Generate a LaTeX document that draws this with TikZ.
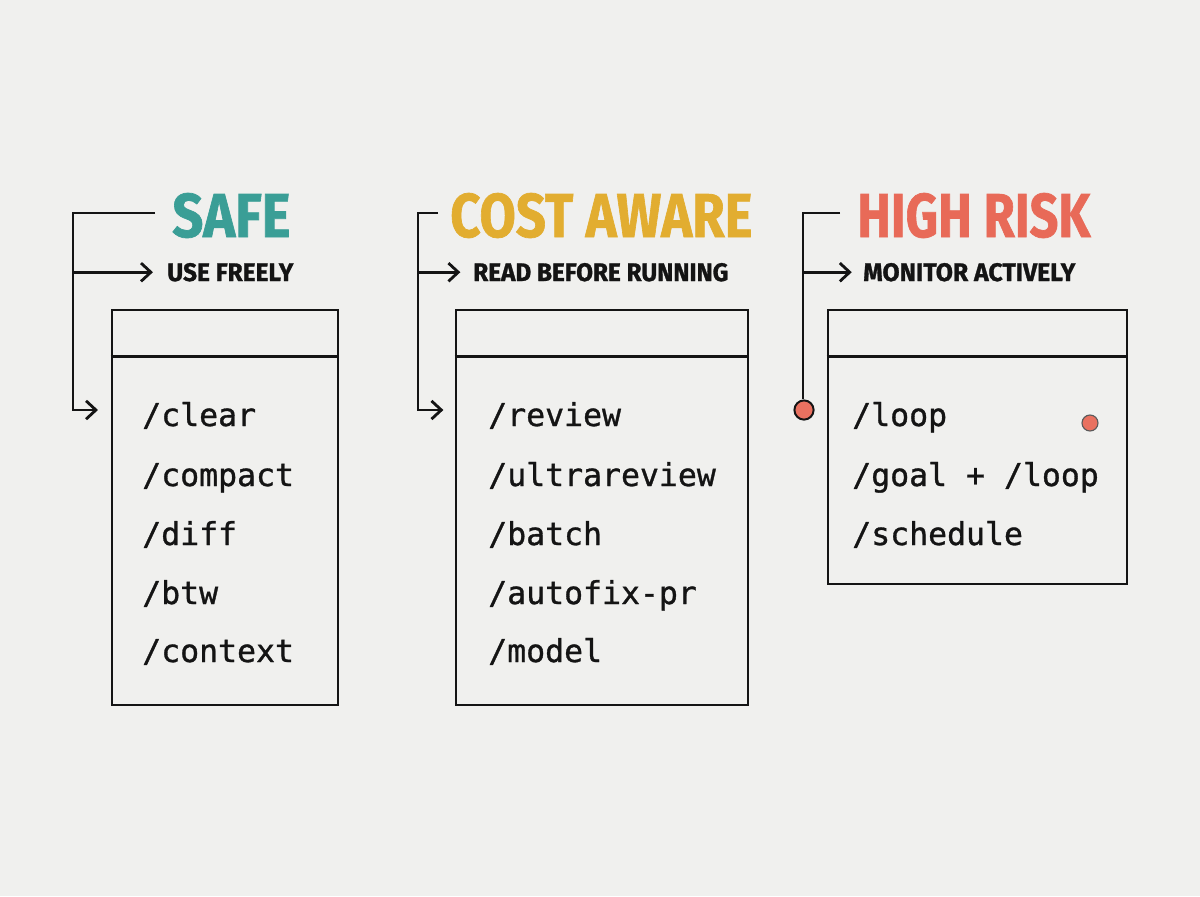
\documentclass[tikz,border=0pt]{standalone}
\usepackage{fontspec}
\usepackage{graphicx}
\setsansfont{Fira Sans}[BoldFeatures={FakeBold=1.2}]
\setmonofont{DejaVu Sans Mono}[FakeBold=1]
\usetikzlibrary{arrows.meta}
\definecolor{paper}{RGB}{240,240,238}
\definecolor{safeteal}{RGB}{58,158,150}
\definecolor{costgold}{RGB}{226,173,48}
\definecolor{riskred}{RGB}{232,106,88}
\definecolor{ink}{RGB}{20,20,20}

\tikzset{
  heading/.style={anchor=base west, inner sep=0pt, font=\sffamily\bfseries},
  note/.style={anchor=base west, inner sep=0pt, font=\sffamily\bfseries, text=ink},
  cmdlist/.style={draw=ink, line width=1.9pt, inner sep=0pt},
  cmd/.style={anchor=base west, inner sep=0pt, text=ink, font=\ttfamily\fontsize{22.4}{26}\selectfont},
  bracket/.style={draw=ink, line width=2pt},
  pointer/.style={-{Straight Barb[length=7pt,width=13pt]}},
  alarm/.style={circle, inner sep=0pt, fill=riskred!95, draw=ink, line width=1.4pt, minimum size=0.48cm}
}

\begin{document}
\begin{tikzpicture}[x=0.025cm, y=-0.025cm]
  \fill[paper] (0,0) rectangle (1200,896);

  % headings
  \node[heading, text=safeteal] (safe) at (172,237) {\resizebox{2.95cm}{1.1cm}{SAFE}};
  \node[heading, text=costgold] (cost) at (450,237) {\resizebox{7.55cm}{1.1cm}{COST AWARE}};
  \node[heading, text=riskred] (risk) at (857,237) {\resizebox{5.825cm}{1.1cm}{HIGH RISK}};

  \node[note] (safeNote) at (167,281) {\resizebox{3.15cm}{0.45cm}{USE FREELY}};
  \node[note] (costNote) at (473,281) {\resizebox{6.375cm}{0.45cm}{READ BEFORE RUNNING}};
  \node[note] (riskNote) at (863,281) {\resizebox{5.3cm}{0.45cm}{MONITOR ACTIVELY}};

  % boxes
  \node[cmdlist, minimum width=5.65cm, minimum height=9.875cm] (safeBox) at (225,507.5) {};
  \node[cmdlist, minimum width=7.3cm, minimum height=9.875cm] (costBox) at (602,507.5) {};
  \node[cmdlist, minimum width=7.475cm, minimum height=6.85cm] (riskBox) at (977.5,447) {};
  \draw[cmdlist] ([yshift=-1.2cm]safeBox.north west) -- ([yshift=-1.2cm]safeBox.north east);
  \draw[cmdlist] ([yshift=-1.2cm]costBox.north west) -- ([yshift=-1.2cm]costBox.north east);
  \draw[cmdlist] ([yshift=-1.2cm]riskBox.north west) -- ([yshift=-1.2cm]riskBox.north east);

  % commands
  \node[cmd] (clear) at (142,426) {/clear};
  \node[cmd] (compact) at (142,486) {/compact};
  \node[cmd] (diff) at (142,545) {/diff};
  \node[cmd] (btw) at (142,604) {/btw};
  \node[cmd] (context) at (142,662) {/context};

  \node[cmd] (review) at (488,426) {/review};
  \node[cmd] (ultrareview) at (488,486) {/ultrareview};
  \node[cmd] (batch) at (488,545) {/batch};
  \node[cmd] (autofix) at (488,604) {/autofix-pr};
  \node[cmd] (model) at (488,662) {/model};

  \node[cmd] (loop) at (852,426) {/loop};
  \node[cmd] (goalLoop) at (852,486) {/goal + /loop};
  \node[cmd] (schedule) at (852,545) {/schedule};

  % brackets
  \coordinate (safeStart) at (155,213);
  \coordinate (safeBend) at (73,213);
  \coordinate (safeFoot) at (73,410);
  \draw[bracket, pointer] (safeStart) -- (safeBend) -- (safeFoot) -- ([xshift=-9pt]safeBox.west |- safeFoot);
  \draw[bracket, pointer] (safeBend |- safeNote.west) -- ([xshift=-10pt]safeNote.west);

  \coordinate (costStart) at (438,213);
  \coordinate (costBend) at (418,213);
  \coordinate (costFoot) at (418,410);
  \draw[bracket, pointer] (costStart) -- (costBend) -- (costFoot) -- ([xshift=-8pt]costBox.west |- costFoot);
  \draw[bracket, pointer] (costBend |- costNote.west) -- ([xshift=-9pt]costNote.west);

  \coordinate (riskStart) at (840,213);
  \coordinate (riskBend) at (803,213);
  \node[alarm] (riskPin) at (804,410) {};
  \draw[bracket] (riskStart) -- (riskBend) -- (riskBend |- riskPin.north);
  \draw[bracket, pointer] (riskBend |- riskNote.west) -- ([xshift=-8pt]riskNote.west);
  \node[alarm, minimum size=0.4cm, line width=0.8pt, draw=ink!70] (riskDot) at (1090,423) {};
\end{tikzpicture}
\end{document}
